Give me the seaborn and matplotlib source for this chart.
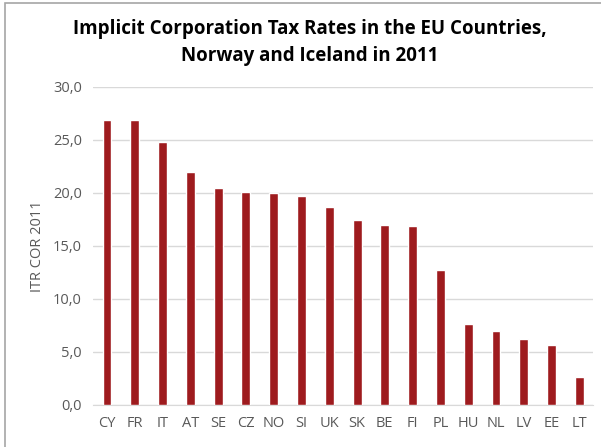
import pandas as pd
import matplotlib
matplotlib.use("Agg")
import matplotlib.pyplot as plt
import seaborn as sns
from matplotlib.patches import Rectangle

# data
countries = ['CY', 'FR', 'IT', 'AT', 'SE', 'CZ', 'NO', 'SI', 'UK',
             'SK', 'BE', 'FI', 'PL', 'HU', 'NL', 'LV', 'EE', 'LT']
itr_cor = [26.9, 26.9, 24.8, 22.0, 20.5, 20.1, 20.0, 19.7, 18.7,
           17.4, 17.0, 16.9, 12.7, 7.6, 7.0, 6.2, 5.7, 2.6]
y_ticks = [0, 5, 10, 15, 20, 25, 30]

df = pd.DataFrame({'country': countries, 'itr': itr_cor})

sns.set_style("white")
plt.rcParams['font.family'] = ['Open Sans', 'DejaVu Sans']

fig = plt.figure(figsize=(6.01, 4.47), dpi=100)
ax = fig.add_axes([0.155, 0.094, 0.832, 0.712])

sns.barplot(data=df, x='country', y='itr', color='#9E1B1E',
            width=0.32, saturation=1, ax=ax, zorder=3)

ax.set_ylim(0, 30)
ax.set_yticks(y_ticks)
ax.set_yticklabels([f"{v:.1f}".replace('.', ',') for v in y_ticks])
ax.yaxis.grid(True, color='#D9D9D9', linewidth=1, zorder=0)
ax.set_axisbelow(True)
for s in ['top', 'right', 'left']:
    ax.spines[s].set_visible(False)
ax.spines['bottom'].set_color('#D9D9D9')
ax.tick_params(axis='both', length=0, labelsize=10.5, colors='#595959', pad=8)
ax.set_xlabel('')
ax.set_ylabel('ITR COR 2011', fontsize=10.5, color='#595959', labelpad=6)
ax.set_xlim(-0.5, len(countries) - 0.5)

fig.text(0.515, 0.905, 'Implicit Corporation Tax Rates in the EU Countries,\nNorway and Iceland in 2011',
         ha='center', va='center', fontsize=13.5, fontweight='bold',
         linespacing=1.5, color='black')

# outer frame of the chart area
fig.patches.append(Rectangle((0.008, -0.05), 1.2, 1.043, transform=fig.transFigure,
                             fill=False, edgecolor='#A6A6A6', linewidth=1.2))

fig.savefig('out.png', dpi=100)
